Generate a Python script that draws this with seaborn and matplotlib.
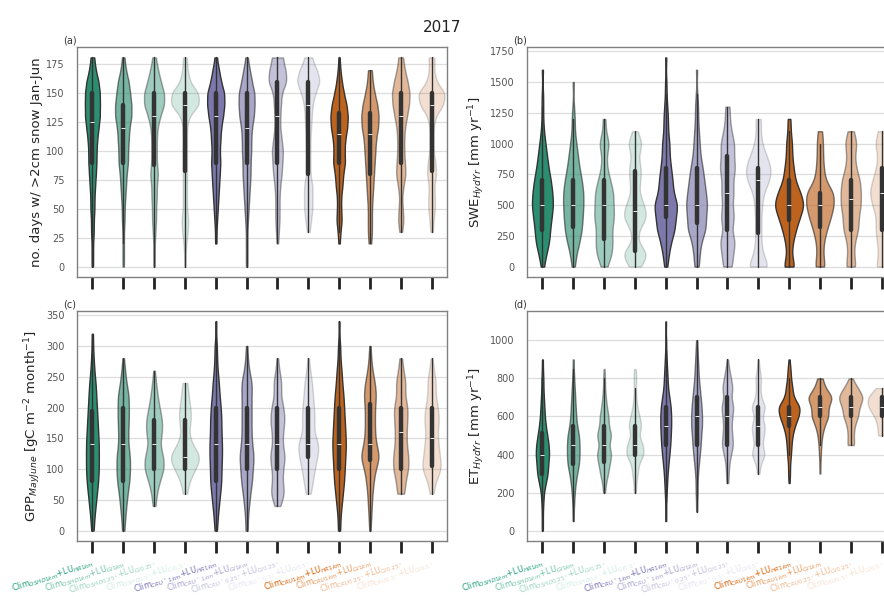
import numpy as np
import pandas as pd
import matplotlib
matplotlib.use('Agg')
import matplotlib.pyplot as plt
import seaborn as sns
from matplotlib.collections import PolyCollection
from matplotlib.colors import to_rgba

# ---------------- data ----------------
categories = ['OSHD_HR1km', 'OSHD_GI1km', 'OSHD_GI025', 'OSHD_GI05',
              'CRUs_HR1km', 'CRUs_GI1km', 'CRUs_GI025', 'CRUs_GI05',
              'CRU_HR1km', 'CRU_GI1km', 'CRU_GI025', 'CRU_GI05']

tick_labels = [r'Clim$_{OSHD1km}$+LU$_{HR1km}$',
               r'Clim$_{OSHD1km}$+LU$_{GI1km}$',
               r'Clim$_{OSHD0.25^\circ}$+LU$_{GI0.25^\circ}$',
               r'Clim$_{OSHD0.5^\circ}$+LU$_{GI0.5^\circ}$',
               r'Clim$_{CRU^*\ 1km}$+LU$_{HR1km}$',
               r'Clim$_{CRU^*\ 1km}$+LU$_{GI1km}$',
               r'Clim$_{CRU^*\ 0.25^\circ}$+LU$_{GI0.25^\circ}$',
               r'Clim$_{CRU^*\ 0.5^\circ}$+LU$_{GI0.5^\circ}$',
               r'Clim$_{CRU1km}$+LU$_{HR1km}$',
               r'Clim$_{CRU1km}$+LU$_{GI1km}$',
               r'Clim$_{CRU0.25^\circ}$+LU$_{GI0.25^\circ}$',
               r'Clim$_{CRU0.5^\circ}$+LU$_{GI0.5^\circ}$']

group_colors = ['#1b9e77', '#7570b3', '#d95f02']
alphas = [1.0, 0.65, 0.45, 0.2]

# (a) snow days: value levels and number of cells per level, for each run
snow_levels = [0, 10, 20, 30, 40, 50, 60, 70, 80, 90, 100, 110, 120, 130,
               140, 150, 160, 170, 181]
snow_counts = [
    [1, 1, 1, 2, 2, 3, 3, 4, 5, 6, 6, 7, 9, 11, 11, 11, 9, 5, 3],
    [1, 1, 1, 1, 2, 2, 3, 4, 5, 7, 7, 8, 9, 12, 12, 10, 8, 4, 2],
    [1, 1, 1, 2, 3, 3, 4, 4, 6, 4, 4, 4, 5, 9, 15, 15, 10, 6, 3],
    [1, 1, 2, 4, 5, 3, 3, 3, 3, 3, 3, 3, 3, 6, 21, 20, 7, 4, 3],
    [0, 0, 1, 1, 2, 3, 4, 5, 6, 7, 6, 7, 8, 11, 13, 13, 8, 5, 2],
    [1, 1, 1, 1, 2, 3, 4, 5, 6, 6, 7, 7, 8, 11, 12, 12, 8, 5, 2],
    [0, 0, 1, 2, 3, 3, 3, 4, 6, 7, 8, 6, 4, 4, 5, 6, 13, 12, 9],
    [0, 0, 0, 2, 4, 6, 6, 6, 3, 3, 3, 3, 4, 5, 6, 10, 17, 13, 6],
    [0, 0, 1, 2, 4, 3, 3, 5, 6, 9, 8, 9, 12, 13, 11, 7, 4, 2, 1],
    [0, 0, 2, 3, 3, 3, 4, 5, 6, 7, 8, 9, 12, 13, 11, 7, 4, 3, 0],
    [0, 0, 0, 2, 4, 3, 2, 4, 7, 6, 5, 5, 6, 9, 12, 13, 10, 6, 4],
    [0, 0, 0, 2, 3, 5, 5, 4, 7, 6, 3, 3, 3, 6, 18, 21, 7, 4, 5],
]

# (b) SWE
swe_levels = [0, 100, 200, 300, 400, 500, 600, 700, 800, 900, 1000, 1100,
              1200, 1300, 1400, 1500, 1600, 1700]
swe_counts = [
    [2, 5, 9, 10, 12, 14, 13, 11, 8, 6, 4, 2, 1, 1, 1, 0, 1, 0],
    [2, 4, 8, 11, 12, 13, 13, 11, 8, 6, 4, 2, 2, 1, 0, 1, 0, 0],
    [4, 10, 11, 10, 13, 12, 12, 8, 4, 3, 7, 2, 2, 0, 0, 0, 0, 0],
    [7, 18, 3, 5, 16, 12, 5, 7, 8, 4, 10, 3, 0, 0, 0, 0, 0, 0],
    [2, 4, 7, 12, 13, 16, 10, 9, 7, 5, 5, 3, 3, 2, 1, 1, 0, 1],
    [3, 4, 6, 12, 12, 14, 12, 10, 8, 5, 4, 3, 2, 2, 1, 0, 1, 0],
    [6, 7, 10, 5, 9, 6, 8, 7, 10, 8, 9, 5, 3, 3, 0, 0, 0, 0],
    [15, 6, 4, 4, 4, 5, 7, 15, 17, 11, 5, 3, 4, 0, 0, 0, 0, 0],
    [8, 3, 5, 9, 14, 20, 15, 8, 6, 4, 4, 2, 2, 0, 0, 0, 0, 0],
    [7, 4, 5, 9, 14, 18, 18, 7, 5, 4, 4, 3, 0, 0, 0, 0, 0, 0],
    [7, 4, 5, 10, 10, 13, 13, 12, 7, 5, 8, 4, 0, 0, 0, 0, 0, 0],
    [8, 4, 6, 8, 7, 12, 16, 12, 7, 5, 9, 5, 0, 0, 0, 0, 0, 0],
]

# (c) GPP May-June
gpp_levels = [0, 20, 40, 60, 80, 100, 120, 140, 160, 180, 200, 220, 240,
              260, 280, 300, 320, 340]
gpp_counts = [
    [2, 3, 5, 7, 9, 10, 10, 10, 9, 8, 7, 6, 5, 3, 2, 1, 1, 0],
    [2, 3, 5, 7, 10, 11, 11, 8, 8, 9, 9, 9, 5, 3, 1, 0, 0, 0],
    [0, 0, 2, 4, 8, 15, 14, 8, 12, 12, 8, 5, 3, 1, 0, 0, 0, 0],
    [0, 0, 0, 3, 6, 15, 24, 10, 5, 9, 8, 5, 4, 0, 0, 0, 0, 0],
    [2, 3, 5, 7, 9, 9, 10, 10, 9, 9, 8, 6, 5, 3, 2, 2, 0, 1],
    [2, 2, 4, 6, 9, 10, 12, 9, 8, 8, 8, 8, 9, 4, 2, 1, 0, 0],
    [0, 0, 4, 12, 8, 9, 13, 8, 9, 12, 10, 5, 7, 3, 1, 0, 0, 0],
    [0, 0, 0, 4, 7, 10, 14, 17, 8, 10, 9, 7, 6, 3, 1, 0, 0, 0],
    [2, 2, 4, 6, 8, 9, 10, 11, 10, 9, 8, 7, 5, 4, 2, 2, 0, 1],
    [1, 2, 3, 4, 6, 9, 16, 10, 8, 8, 8, 10, 8, 4, 2, 1, 0, 0],
    [0, 0, 0, 6, 7, 12, 12, 9, 9, 10, 11, 6, 8, 4, 2, 0, 0, 0],
    [0, 0, 0, 3, 6, 16, 13, 11, 9, 12, 10, 6, 7, 4, 1, 0, 0, 0],
]

# (d) ET
et_levels = [0, 50, 100, 150, 200, 250, 300, 350, 400, 450, 500, 550, 600,
             650, 700, 750, 800, 850, 900, 950, 1000, 1050, 1100]
et_counts = [
    [1, 1, 1, 2, 3, 7, 11, 12, 14, 13, 10, 7, 5, 4, 3, 2, 2, 1, 1, 0, 0, 0, 0],
    [0, 1, 1, 2, 3, 5, 8, 12, 13, 13, 12, 8, 6, 5, 4, 3, 2, 1, 1, 0, 0, 0, 0],
    [0, 0, 0, 0, 2, 4, 9, 12, 17, 10, 17, 10, 10, 6, 4, 2, 2, 1, 0, 0, 0, 0, 0],
    [0, 0, 0, 0, 2, 3, 6, 8, 20, 18, 8, 15, 10, 5, 3, 2, 3, 2, 0, 0, 0, 0, 0],
    [0, 1, 1, 1, 2, 3, 4, 6, 8, 10, 11, 12, 12, 11, 8, 5, 4, 3, 2, 1, 1, 0, 1],
    [0, 0, 1, 1, 2, 2, 3, 5, 7, 9, 10, 12, 12, 11, 9, 7, 5, 4, 3, 2, 1, 0, 0],
    [0, 0, 0, 0, 0, 2, 3, 4, 8, 13, 11, 9, 11, 14, 8, 12, 8, 4, 1, 0, 0, 0, 0],
    [0, 0, 0, 0, 0, 0, 3, 5, 17, 9, 13, 16, 8, 18, 6, 5, 7, 3, 1, 0, 0, 0, 0],
    [0, 0, 0, 0, 0, 1, 2, 2, 4, 5, 7, 12, 20, 24, 9, 7, 4, 3, 1, 0, 0, 0, 0],
    [0, 0, 0, 0, 0, 0, 1, 1, 2, 3, 5, 10, 20, 18, 30, 12, 6, 0, 0, 0, 0, 0, 0],
    [0, 0, 0, 0, 0, 0, 0, 0, 0, 8, 6, 8, 16, 18, 28, 15, 3, 0, 0, 0, 0, 0, 0],
    [0, 0, 0, 0, 0, 0, 0, 0, 0, 0, 8, 8, 14, 28, 30, 10, 0, 0, 0, 0, 0, 0, 0],
]

ylabels = ['no. days w/ >2cm snow Jan-Jun',
           r'SWE$_{HydYr}$ [mm yr$^{-1}$]',
           r'GPP$_{MayJune}$ [gC m$^{-2}$ month$^{-1}$]',
           r'ET$_{HydYr}$ [mm yr$^{-1}$]']
panel_letters = ['(a)', '(b)', '(c)', '(d)']

# ---------------- style ----------------
sns.set_theme(style='whitegrid')
plt.rcParams['font.family'] = ['DejaVu Sans']
plt.rcParams['mathtext.fontset'] = 'dejavusans'

palette = {c: group_colors[i // 4] for i, c in enumerate(categories)}
label_colors = [to_rgba(group_colors[i // 4], alphas[i % 4]) for i in range(12)]


def long_table(levels, counts):
    cats, vals = [], []
    for cat, cnt in zip(categories, counts):
        v = np.repeat(np.asarray(levels, float), cnt)
        vals.append(v)
        cats.extend([cat] * len(v))
    return pd.DataFrame({'cat': cats, 'val': np.concatenate(vals)})


def fixed_bw(h):
    # kernel bandwidth in data units
    return lambda kde: h / max(np.std(kde.dataset, ddof=1), 1e-9)


fig = plt.figure(figsize=(8.84, 5.97), dpi=100)
W, H = 884.0, 597.0
ax_w = 370 / W
ax_h = 230 / H
positions = [
    (77 / W, (H - 277) / H),
    (527 / W, (H - 277) / H),
    (77 / W, (H - 541) / H),
    (527 / W, (H - 541) / H),
]
tables = [long_table(snow_levels, snow_counts),
          long_table(swe_levels, swe_counts),
          long_table(gpp_levels, gpp_counts),
          long_table(et_levels, et_counts)]
bandwidths = [5.5, 62, 13, 30]

for k in range(4):
    ax = fig.add_axes([positions[k][0], positions[k][1], ax_w, ax_h])
    sns.violinplot(data=tables[k], x='cat', y='val', hue='cat', order=categories,
                   hue_order=categories, palette=palette, cut=0, inner='box',
                   bw_method=fixed_bw(bandwidths[k]), width=0.9,
                   common_norm=True, density_norm='area',
                   inner_kws=dict(box_width=3.2, whis_width=1.0,
                                  color='#333333'),
                   legend=False, ax=ax, linecolor='#333333', linewidth=1.0)
    for coll in ax.collections:
        if isinstance(coll, PolyCollection):
            verts = coll.get_paths()[0].vertices
            idx = int(round(np.mean(verts[:, 0])))
            idx = max(0, min(11, idx))
            coll.set_alpha(alphas[idx % 4])

    ax.set_xlabel('')
    ax.set_ylabel(ylabels[k], fontsize=9.5, color='#222222', labelpad=2)
    ax.grid(axis='x', visible=False)
    ax.grid(axis='y', color='#dddddd', linewidth=0.9)
    for sp in ax.spines.values():
        sp.set_color('#808080')
        sp.set_linewidth(1.0)
    ax.tick_params(axis='x', bottom=True, length=8.5, width=2.0,
                   color='#222222', direction='out', pad=3.0)
    ax.tick_params(axis='y', labelsize=7, labelcolor='#555555', left=False,
                   pad=3)
    ax.set_xlim(-0.5, 11.5)
    ax.set_xticks(range(12))
    if k < 2:
        ax.set_xticklabels([''] * 12)
    else:
        ax.set_xticklabels(tick_labels, rotation=18, ha='right',
                           rotation_mode='anchor', fontsize=5.8)
        for lab, col in zip(ax.get_xticklabels(), label_colors):
            lab.set_color(col)
    ax.text(-0.038, 1.03, panel_letters[k], transform=ax.transAxes,
            fontsize=7, color='#333333', ha='left', va='center')

fig.suptitle('2017', y=1 - 20 / H, fontsize=11, color='#222222')
fig.savefig('out.png', dpi=100)
